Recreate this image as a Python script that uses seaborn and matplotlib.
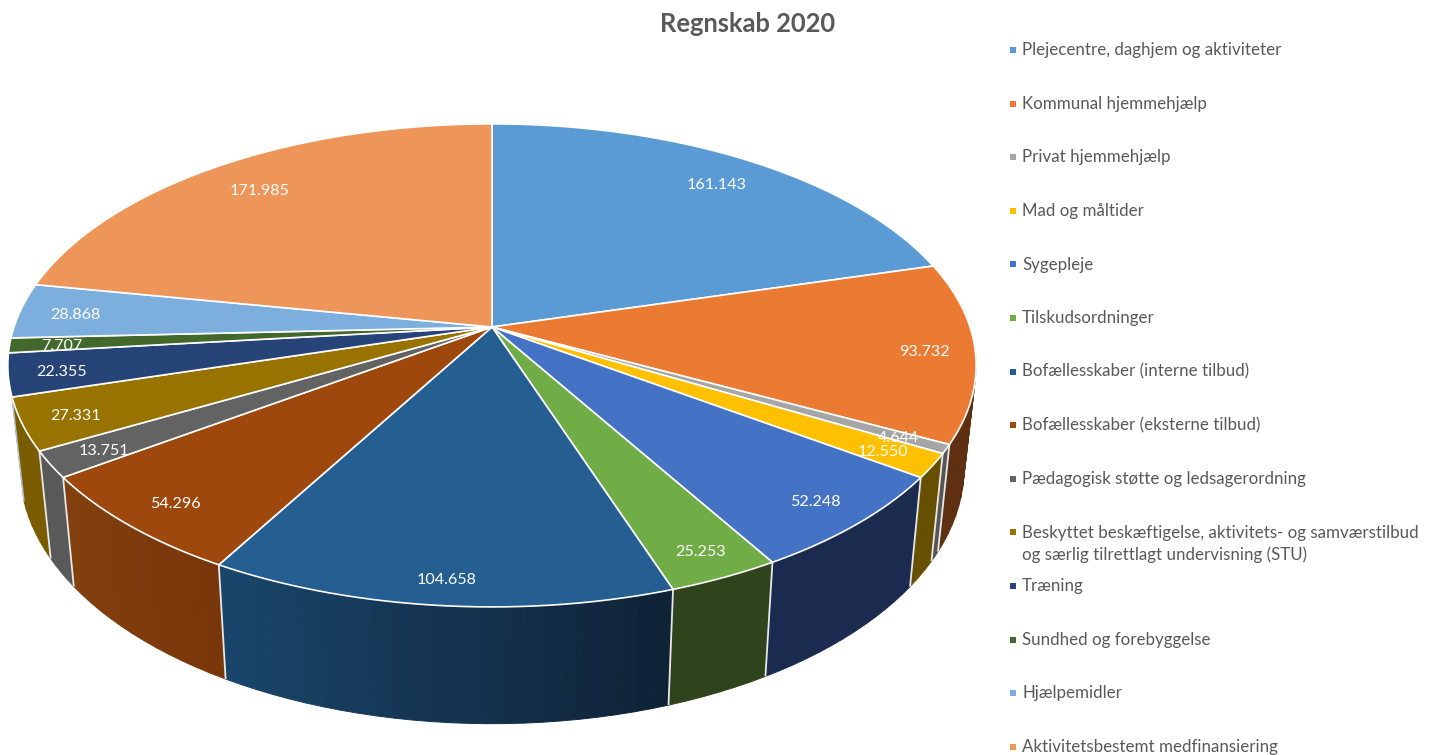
import numpy as np
import matplotlib
matplotlib.use("Agg")
import matplotlib.pyplot as plt
import seaborn as sns
from matplotlib.path import Path
from matplotlib.transforms import Transform, Affine2D

# ---- data -----
title = "Regnskab 2020"
categories = [
    "Plejecentre, daghjem og aktiviteter",
    "Kommunal hjemmehjælp",
    "Privat hjemmehjælp",
    "Mad og måltider",
    "Sygepleje",
    "Tilskudsordninger",
    "Bofællesskaber (interne tilbud)",
    "Bofællesskaber (eksterne tilbud)",
    "Pædagogisk støtte og ledsagerordning",
    "Beskyttet beskæftigelse, aktivitets- og samværstilbud\nog særlig tilrettlagt undervisning (STU)",
    "Træning",
    "Sundhed og forebyggelse",
    "Hjælpemidler",
    "Aktivitetsbestemt medfinansiering",
]
values = [161143, 93732, 4644, 12550, 52248, 25253, 104658,
          54296, 13751, 27331, 22355, 7707, 28868, 171985]
top_colors = ["#5B9BD5", "#EB7B32", "#A5A5A5", "#FFC000", "#4472C4", "#70AD47", "#255E91",
              "#9E480E", "#636363", "#997300", "#264478", "#43682B", "#7CAFDD", "#EE955A"]
# side-wall shades; None = wall hidden behind the top face
wall_start = [None, "#5F2F12", "#555555", "#665000", "#1A2B4F", "#2F431D", "#0F2236",
              "#79360A", "#595959", "#7A5C00", None, None, None, None]
wall_end = [None, "#5F2F12", "#555555", "#665000", "#1A2B4F", "#2F431D", "#1A466C",
            "#82400E", "#595959", "#7A5C00", None, None, None, None]
label_radius = [0.854, 0.893, 0.899, 0.893, 0.892, 0.904, 0.915,
                0.891, 0.891, 0.897, 0.896, 0.897, 0.886, 0.846]

# ---- view of the tilted disc, in image pixels -----
CX, CY = 492.0, 327.0
GX, FY, K = 478.0, 235.4, 0.159
SX, SY, DROP = 0.975, 1.06, 100.0


def project(u, v):
    w = 1 + K * np.asarray(v)
    return CX + GX * np.asarray(u) / w, CY - FY * np.asarray(v) / w


def lower(x, y):
    return CX + (x - CX) * SX, CY + (y - CY) * SY + DROP


class DiscTransform(Transform):
    input_dims = output_dims = 2
    is_affine = False
    has_inverse = False

    def transform_non_affine(self, values):
        a = np.asarray(values, float)
        x, y = project(a[:, 0], a[:, 1])
        return np.column_stack([x, y])

    def transform_path_non_affine(self, path):
        fine = path.transformed(Affine2D().scale(2000)).to_polygons(closed_only=True)[0] / 2000
        return Path(self.transform_non_affine(fine), closed=True)


sns.set_theme(style="white")
plt.rcParams["font.family"] = ["Lato", "DejaVu Sans"]
palette = sns.color_palette(top_colors)

fig = plt.figure(figsize=(14.34, 7.55), dpi=100, facecolor="white")
ax = fig.add_axes([0, 0, 1, 1])

# top face
wedges, _ = ax.pie(values, colors=palette, startangle=90, counterclock=False,
                   wedgeprops=dict(edgecolor="white", linewidth=1.2, joinstyle="round"))
ax.set_aspect("auto")
ax.set_xlim(0, 1434)
ax.set_ylim(755, 0)
ax.axis("off")
disc = DiscTransform()
for w in wedges:
    w.set_transform(disc + ax.transData)
    w.set_zorder(3)

# side walls
vals = np.asarray(values, float)
edges = np.concatenate([[0], np.cumsum(vals)]) / vals.sum() * 2 * np.pi
strips = []
for i in range(len(vals)):
    if wall_start[i] is None:
        continue
    n = max(2, int(np.degrees(edges[i + 1] - edges[i]) / 2) + 1)
    th = np.linspace(edges[i], edges[i + 1], n + 1)
    c0 = np.array(matplotlib.colors.to_rgb(wall_start[i]))
    c1 = np.array(matplotlib.colors.to_rgb(wall_end[i]))
    for j in range(n):
        t = (j + 0.5) / n
        strips.append((th[j], th[j + 1], c0 * (1 - t) + c1 * t))
strips.sort(key=lambda s: -np.cos((s[0] + s[1]) / 2))
for a, b, col in strips:
    tt = np.array([a, b])
    xt, yt = project(np.sin(tt), np.cos(tt))
    xl, yl = lower(xt, yt)
    ax.fill(np.r_[xt, xl[::-1]], np.r_[yt, yl[::-1]], color=col, lw=0.7, zorder=1)
for k in range(1, 11):
    e = edges[k]
    xt, yt = project(np.sin(e), np.cos(e))
    xl, yl = lower(xt, yt)
    ax.plot([xt, xl], [yt, yl], color="#B4C2D2" if k == 10 else "#E8E8E8",
            lw=1.0 if k == 10 else 1.3, zorder=2, solid_capstyle="butt")

# data labels
mids = (edges[:-1] + edges[1:]) / 2
for v, m, r in zip(values, mids, label_radius):
    x, y = project(r * np.sin(m), r * np.cos(m))
    ax.text(x + 2, y + 2.5, f"{v:,}".replace(",", "."), color="white", fontsize=11.6,
            ha="center", va="center", zorder=5)

# title
ax.text(748, 23.5, title, color="#595959", fontsize=18.4, fontweight="bold",
        ha="center", va="center")

# legend
for i, (name, col) in enumerate(zip(categories, palette)):
    y = 50 + 53.6 * i
    ax.plot([1012.5], [y], marker="s", ms=4.4, color=col, mew=0, zorder=5, clip_on=False)
    for j, line in enumerate(name.split("\n")):
        ax.text(1022, y + 5.2 + 22 * j, line, color="#595959", fontsize=12.2,
                ha="left", va="baseline")

fig.savefig("out.png", dpi=100, facecolor="white")
